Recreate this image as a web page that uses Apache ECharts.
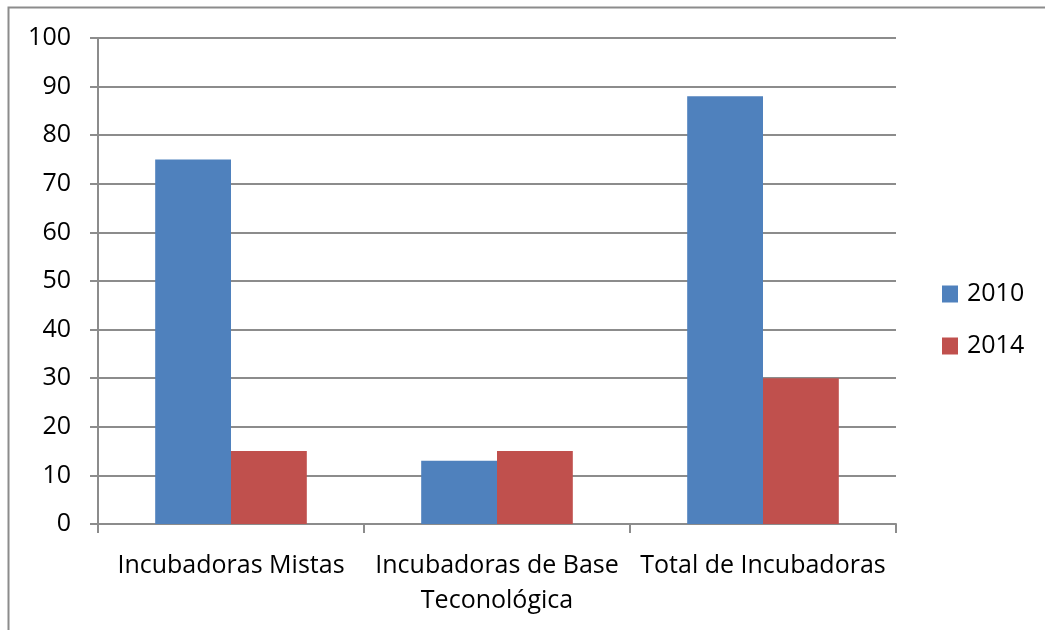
<!DOCTYPE html>
<html>
<head>
<meta charset="utf-8">
<script src="https://cdn.jsdelivr.net/npm/echarts@6/dist/echarts.min.js"></script>
<style>
  html, body { margin: 0; padding: 0; background: #ffffff; }
  #chart { width: 1045px; height: 630px; }
</style>
</head>
<body>
<div id="chart"></div>
<script>
// Número de incubadoras por tipo, 2010 vs 2014
const categories = ['Incubadoras Mistas', 'Incubadoras de Base\nTeconológica', 'Total de Incubadoras'];
const years = ['2010', '2014'];
const values2010 = [75, 13, 88];
const values2014 = [15, 15, 30];
const yTicks = { min: 0, max: 100, interval: 10 };

const font = '"Open Sans", "Noto Sans", "Liberation Sans", sans-serif';
const fontSize = 25;
const gridColor = '#8c8c8c';

const chart = echarts.init(document.getElementById('chart'), null, { renderer: 'canvas' });

chart.setOption({
  animation: false,
  backgroundColor: '#ffffff',
  graphic: [
    {
      type: 'polyline',
      shape: { points: [[8.5, 640], [8.5, 7.5], [1050, 7.5]] },
      style: { stroke: '#8c8c8c', lineWidth: 2, fill: null },
      silent: true
    }
  ],
  grid: { left: 98, right: 149, top: 38, bottom: 106, containLabel: false },
  legend: {
    orient: 'vertical',
    left: 942,
    top: 280,
    padding: 0,
    itemWidth: 16,
    itemHeight: 17,
    itemGap: 24,
    icon: 'rect',
    textStyle: { fontFamily: font, fontSize: fontSize, lineHeight: 28, color: '#000000', padding: [0, 0, 0, 4] },
    data: years
  },
  xAxis: {
    type: 'category',
    data: categories,
    axisLine: { lineStyle: { color: gridColor, width: 2 } },
    axisTick: { show: true, alignWithLabel: false, length: 9, lineStyle: { color: gridColor, width: 2 } },
    axisLabel: {
      interval: 0,
      margin: 24,
      fontFamily: font,
      fontSize: fontSize,
      lineHeight: 35,
      color: '#000000'
    }
  },
  yAxis: {
    type: 'value',
    min: yTicks.min,
    max: yTicks.max,
    interval: yTicks.interval,
    axisLine: { show: true, lineStyle: { color: gridColor, width: 2 } },
    axisTick: { show: true, length: 8, lineStyle: { color: gridColor, width: 2 } },
    splitLine: { show: true, lineStyle: { color: gridColor, width: 2 } },
    axisLabel: { margin: 27, fontFamily: font, fontSize: fontSize, color: '#000000' }
  },
  series: [
    {
      name: years[0],
      type: 'bar',
      data: values2010,
      barGap: '0%',
      barCategoryGap: '43%',
      itemStyle: { color: '#4f81bd' }
    },
    {
      name: years[1],
      type: 'bar',
      data: values2014,
      barGap: '0%',
      barCategoryGap: '43%',
      itemStyle: { color: '#c0504d' }
    }
  ]
});
</script>
</body>
</html>
